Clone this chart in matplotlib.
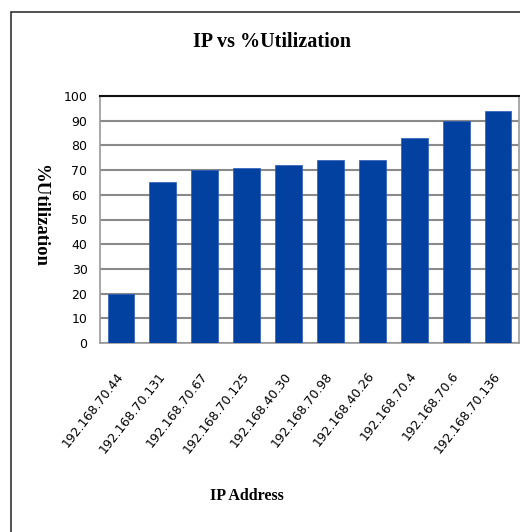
import matplotlib
matplotlib.use("Agg")
import matplotlib.pyplot as plt
import matplotlib.patches as patches

# utilization per host
ip_addresses = ["192.168.70.44", "192.168.70.131", "192.168.70.67", "192.168.70.125",
                "192.168.40.30", "192.168.70.98", "192.168.40.26", "192.168.70.4",
                "192.168.70.6", "192.168.70.136"]
utilization = [20, 65, 70, 71, 72, 74, 74, 83, 90, 94]
y_ticks = [0, 10, 20, 30, 40, 50, 60, 70, 80, 90, 100]

W, H = 520, 532
fig = plt.figure(figsize=(W / 100, H / 100), dpi=100)
fig.patch.set_facecolor("white")

# outer chart frame, running off the right and bottom edges
frame = patches.Rectangle((11 / W, -0.05), 1.1, 1 - 12 / H + 0.05,
                          transform=fig.transFigure, fill=False,
                          edgecolor="#333333", linewidth=1.2)
fig.add_artist(frame)

ax = fig.add_axes([100 / W, 1 - 343 / H, 419 / W, 247 / H])
x = range(len(ip_addresses))
ax.bar(x, utilization, width=0.64, color="#0341a0", edgecolor="#2a5cb8",
       linewidth=0.5, zorder=3)

ax.set_xlim(-0.5, len(ip_addresses) - 0.5)
ax.set_ylim(0, 100)
ax.set_yticks(y_ticks)
ax.yaxis.grid(True, color="#8a8a8a", linewidth=1.5, zorder=0)
ax.set_axisbelow(True)

ax.tick_params(axis="y", length=0, pad=9, labelsize=9)
ax.tick_params(axis="x", length=0, pad=22, labelsize=9)
ax.set_xticks(list(x))
ax.set_xticklabels(ip_addresses, rotation=52, ha="right", va="center",
                   rotation_mode="anchor")

for side in ["left", "bottom", "right"]:
    ax.spines[side].set_color("#9a9a9a")
    ax.spines[side].set_linewidth(1.2)
ax.spines["top"].set_color("#111111")
ax.spines["top"].set_linewidth(1.5)

serif = "Liberation Serif"
fig.text(272 / W, 1 - 42 / H, "IP vs %Utilization", ha="center", va="center",
         family=serif, fontweight="bold", fontsize=14.5)
fig.text(40 / W, 1 - 216 / H, "%Utilization", ha="center", va="center",
         rotation=270, family=serif, fontweight="bold", fontsize=13.5)
fig.text(247 / W, 1 - 496 / H, "IP Address", ha="center", va="center",
         family=serif, fontweight="bold", fontsize=11.5)

fig.savefig("out.png", dpi=100)
